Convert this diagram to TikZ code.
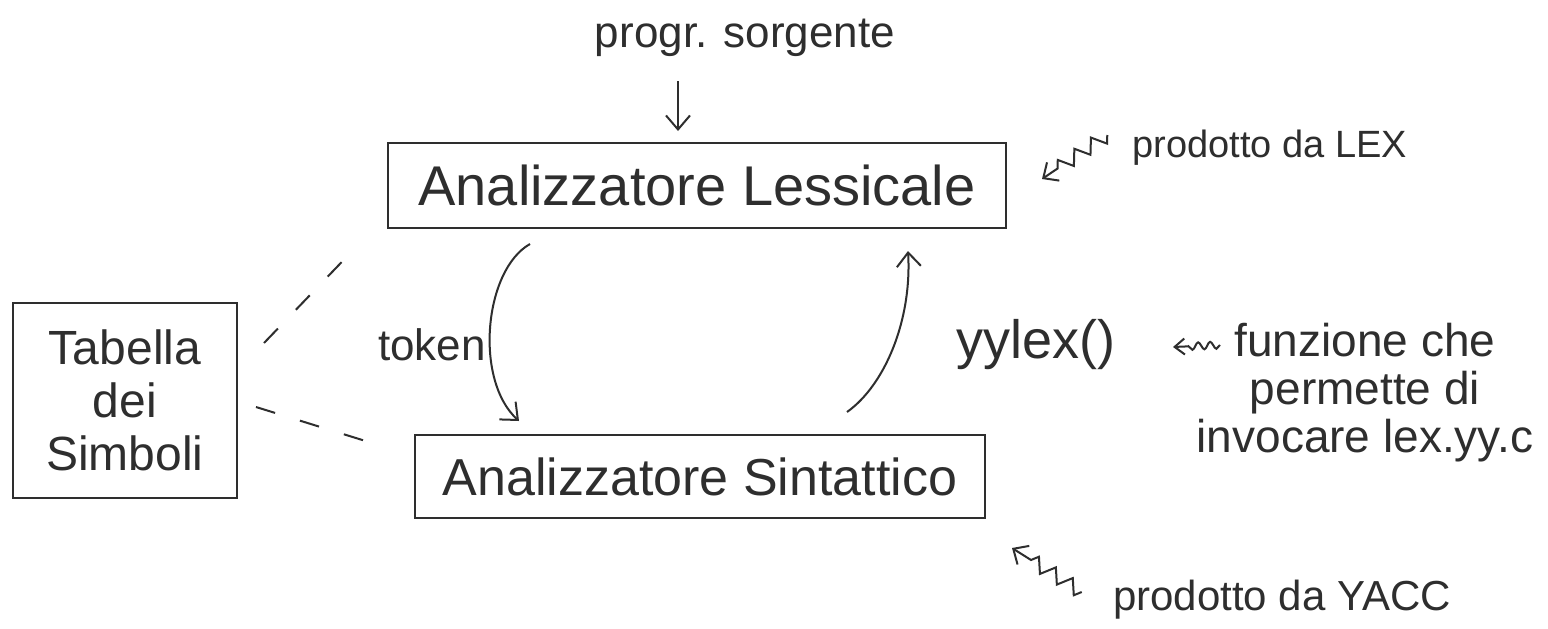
\documentclass[tikz,border=0pt]{standalone}
\usepackage{fontspec}
\setmainfont{Liberation Sans}
\usetikzlibrary{arrows.meta,decorations.pathmorphing,calc}
\begin{document}
\begin{tikzpicture}[x=0.5pt,y=-0.5pt,
  ink/.style={draw=black!82, line width=1pt},
  box/.style={ink, rectangle, inner sep=0pt, text=black!82},
  lbl/.style={text=black!82, inner sep=0pt, anchor=center},
  arr/.style={ink, -{Straight Barb[length=7pt,width=12pt]}},
  wavy/.style={ink, -{Straight Barb[length=6pt,width=11pt]}, decorate,
    decoration={zigzag, amplitude=3.5pt, segment length=10pt, post length=7pt}},
  wavysmall/.style={ink, -{Straight Barb[length=5pt,width=8pt]}, decorate,
    decoration={snake, amplitude=1.8pt, segment length=6pt, post length=5pt}},
  dashline/.style={ink, dash pattern=on 10pt off 13pt}
]
\useasboundingbox (0,0) rectangle (1548,628);
\fill[white] (0,0) rectangle (1548,628);

% texts
\node[lbl, font=\fontsize{22}{26}\selectfont] (src) at (745,38) {progr. sorgente};
\node[lbl, font=\fontsize{19}{22}\selectfont] (lexnote) at (1270,148) {prodotto da LEX};
\node[lbl, font=\fontsize{21}{24}\selectfont] (yaccnote) at (1282,600) {prodotto da YACC};
\node[lbl, font=\fontsize{22}{26}\selectfont] (tok) at (432,345) {token};
\node[lbl, font=\fontsize{27}{30}\selectfont] (yy) at (1036,345) {yylex()};
\node[lbl, align=center, font=\fontsize{23}{24}\selectfont] (desc) at (1365,393)
  {funzione che\\permette di\\invocare lex.yy.c};

% boxes
\node[box, minimum width=309pt, minimum height=42.5pt, font=\fontsize{28}{32}\selectfont]
  (lex) at (697,185.5) {Analizzatore Lessicale};
\node[box, minimum width=285pt, minimum height=41.5pt, font=\fontsize{26}{30}\selectfont]
  (syn) at (700,476.5) {Analizzatore Sintattico};
\node[box, minimum width=112pt, minimum height=97.5pt, align=center,
  font=\fontsize{24}{26.5}\selectfont] (tab) at (125,400.5) {Tabella\\dei\\Simboli};

% connectors
\draw[arr] ([shift={(-67,24)}]src.south) -- ([shift={(-19,-11)}]lex.north);
\draw[arr] ([shift={(143,15)}]lex.south west)
  .. controls (484,270) and (474,380) .. ([shift={(105,-13)}]syn.north west);
\draw[arr] ([shift={(147,-22)}]syn.north)
  .. controls (885,385) and (912,320) .. ([shift={(211,22)}]lex.south);

\draw[dashline] ([shift={(26,-57.5)}]tab.east) -- ([shift={(-28,15)}]lex.south west);
\draw[dashline] ([shift={(18,6.5)}]tab.east) -- ([shift={(-42,-33.5)}]syn.west);

\draw[wavy] ([shift={(-25,-13)}]lexnote.west) -- ([shift={(35,-6.5)}]lex.east);
\draw[wavy] ([shift={(-31,-8)}]yaccnote.west) -- ([shift={(26,29)}]syn.south east);
\draw[wavysmall] ([shift={(184,0)}]yy.center) -- ([shift={(137,2)}]yy.center);
\end{tikzpicture}
\end{document}
